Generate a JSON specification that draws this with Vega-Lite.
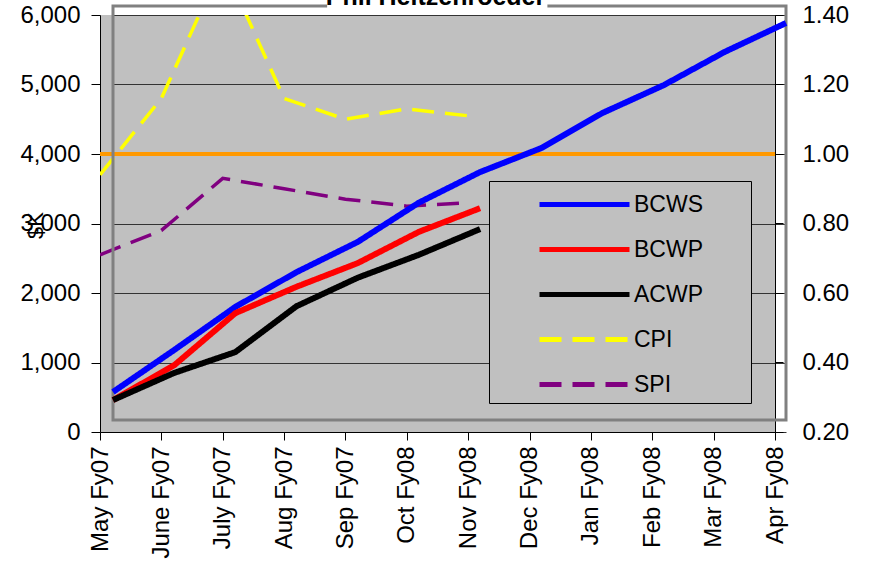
{
  "$schema": "https://vega.github.io/schema/vega-lite/v6.json",
  "width": 675,
  "height": 417,
  "autosize": {"type": "none"},
  "padding": {"left": 100, "top": 15, "right": 97, "bottom": 151},
  "background": "white",
  "title": {"text": "Phil Heitzenroeder", "anchor": "middle", "frame": "group", "offset": -31, "dx": -2, "baseline": "alphabetic", "fontSize": 25, "fontWeight": "bold", "font": "Liberation Sans", "color": "black"},
  "config": {
    "view": {"fill": "#c0c0c0", "stroke": null},
    "font": "Liberation Sans",
    "axis": {"domainColor": "black", "tickColor": "black", "labelColor": "black", "labelFontSize": 24, "labelFont": "Liberation Sans", "gridColor": "#333333", "gridWidth": 1, "domainWidth": 1, "tickWidth": 1, "titleColor": "black"},
    "legend": {"orient": "none", "legendX": 389, "legendY": 166, "fillColor": "#c0c0c0", "strokeColor": "black", "padding": 6, "symbolSize": 900, "symbolStrokeWidth": 5, "symbolOffset": 72, "labelOffset": 32, "labelFontSize": 23, "labelFont": "Liberation Sans", "labelColor": "black", "rowPadding": 15}
  },
  "datasets": {
    "idx": [
      {"month": "May Fy07", "series": "CPI", "value": 0.94},
      {"month": "June Fy07", "series": "CPI", "value": 1.16},
      {"month": "July Fy07", "series": "CPI", "value": 1.55},
      {"month": "Aug Fy07", "series": "CPI", "value": 1.16},
      {"month": "Sep Fy07", "series": "CPI", "value": 1.10},
      {"month": "Oct Fy08", "series": "CPI", "value": 1.13},
      {"month": "Nov Fy08", "series": "CPI", "value": 1.11},
      {"month": "May Fy07", "series": "SPI", "value": 0.71},
      {"month": "June Fy07", "series": "SPI", "value": 0.78},
      {"month": "July Fy07", "series": "SPI", "value": 0.93},
      {"month": "Aug Fy07", "series": "SPI", "value": 0.90},
      {"month": "Sep Fy07", "series": "SPI", "value": 0.87},
      {"month": "Oct Fy08", "series": "SPI", "value": 0.85},
      {"month": "Nov Fy08", "series": "SPI", "value": 0.86}
    ],
    "evm": [
      {"month": "May Fy07", "series": "BCWS", "value": 576},
      {"month": "June Fy07", "series": "BCWS", "value": 1180},
      {"month": "July Fy07", "series": "BCWS", "value": 1800},
      {"month": "Aug Fy07", "series": "BCWS", "value": 2300},
      {"month": "Sep Fy07", "series": "BCWS", "value": 2735},
      {"month": "Oct Fy08", "series": "BCWS", "value": 3300},
      {"month": "Nov Fy08", "series": "BCWS", "value": 3740},
      {"month": "Dec Fy08", "series": "BCWS", "value": 4085},
      {"month": "Jan Fy08", "series": "BCWS", "value": 4590},
      {"month": "Feb Fy08", "series": "BCWS", "value": 4990},
      {"month": "Mar Fy08", "series": "BCWS", "value": 5470},
      {"month": "Apr Fy08", "series": "BCWS", "value": 5885},
      {"month": "May Fy07", "series": "BCWP", "value": 460},
      {"month": "June Fy07", "series": "BCWP", "value": 960},
      {"month": "July Fy07", "series": "BCWP", "value": 1710},
      {"month": "Aug Fy07", "series": "BCWP", "value": 2090},
      {"month": "Sep Fy07", "series": "BCWP", "value": 2430},
      {"month": "Oct Fy08", "series": "BCWP", "value": 2880},
      {"month": "Nov Fy08", "series": "BCWP", "value": 3220},
      {"month": "May Fy07", "series": "ACWP", "value": 460},
      {"month": "June Fy07", "series": "ACWP", "value": 850},
      {"month": "July Fy07", "series": "ACWP", "value": 1150},
      {"month": "Aug Fy07", "series": "ACWP", "value": 1810},
      {"month": "Sep Fy07", "series": "ACWP", "value": 2220},
      {"month": "Oct Fy08", "series": "ACWP", "value": 2550},
      {"month": "Nov Fy08", "series": "ACWP", "value": 2920}
    ]
  },
  "layer": [
    {
      "data": {"name": "idx"},
      "layer": [
        {
          "mark": {"type": "line", "strokeWidth": 3.5, "clip": true},
          "encoding": {
            "x": {"field": "month", "type": "ordinal", "sort": null,
              "scale": {"type": "point", "padding": 0, "domain": ["May Fy07","June Fy07","July Fy07","Aug Fy07","Sep Fy07","Oct Fy08","Nov Fy08","Dec Fy08","Jan Fy08","Feb Fy08","Mar Fy08","Apr Fy08"]},
              "axis": {"orient": "bottom", "title": null, "labelAngle": 270, "labelAlign": "right", "labelBaseline": "middle", "tickSize": 8, "labelPadding": 6, "grid": false, "labelOverlap": false, "labelBound": false}},
            "y": {"field": "value", "type": "quantitative",
              "scale": {"domain": [0.2, 1.4], "nice": false, "zero": false},
              "axis": {"orient": "right", "title": null, "values": [0.2, 0.4, 0.6, 0.8, 1.0, 1.2, 1.4], "format": ".2f", "grid": false, "tickSize": 8, "labelPadding": 19}},
            "color": {"field": "series", "type": "nominal",
              "scale": {"domain": ["BCWS","BCWP","ACWP","CPI","SPI"], "range": ["#0000ff","#ff0000","#000000","#ffff00","#800080"]},
              "legend": {"title": "\u00a0", "titleOrient": "right", "titlePadding": 42, "symbolType": "M-3,0H3"}},
            "strokeDash": {"field": "series", "type": "nominal",
              "scale": {"domain": ["BCWS","BCWP","ACWP","CPI","SPI"], "range": [[1,0],[1,0],[1,0],[22,11],[22,11]]},
              "legend": {"title": "\u00a0", "titleOrient": "right", "titlePadding": 42, "symbolType": "M-3,0H3"}}
          }
        },
        {
          "mark": {"type": "rule", "color": "#ff9900", "strokeWidth": 4},
          "encoding": {"y": {"datum": 1.0, "type": "quantitative"}}
        }
      ]
    },
    {
      "data": {"values": [{}]},
      "layer": [
        {
          "mark": {"type": "rect", "filled": false, "color": "#808080", "strokeWidth": 3},
          "encoding": {
            "x": {"datum": 0, "type": "quantitative", "scale": {"domain": [0, 11], "range": [13, 686], "nice": false, "zero": false}, "axis": null},
            "x2": {"datum": 11},
            "y": {"datum": 6130, "type": "quantitative", "scale": {"domain": [0, 6000], "nice": false}, "axis": null},
            "y2": {"datum": 173}
          }
        },
        {
          "mark": {"type": "rect", "color": "white"},
          "encoding": {
            "x": {"datum": 3.5, "type": "quantitative"},
            "x2": {"datum": 7.1},
            "y": {"datum": 6230, "type": "quantitative"},
            "y2": {"datum": 6060}
          }
        }
      ]
    },
    {
      "data": {"name": "evm"},
      "mark": {"type": "line", "strokeWidth": 6},
      "encoding": {
        "x": {"field": "month", "type": "ordinal", "sort": null,
          "scale": {"type": "point", "padding": 0, "range": [13, 686], "domain": ["May Fy07","June Fy07","July Fy07","Aug Fy07","Sep Fy07","Oct Fy08","Nov Fy08","Dec Fy08","Jan Fy08","Feb Fy08","Mar Fy08","Apr Fy08"]},
          "axis": null},
        "y": {"field": "value", "type": "quantitative",
          "scale": {"domain": [0, 6000], "nice": false},
          "axis": {"orient": "left", "values": [0, 1000, 2000, 3000, 4000, 5000, 6000], "format": ",d", "grid": true, "tickSize": 9, "labelPadding": 11, "title": "$K", "titleX": -65, "titleY": 210, "titleAngle": 270, "titleFontSize": 22, "titleFontWeight": "normal", "titleAlign": "center", "titleBaseline": "middle"}},
        "color": {"field": "series", "type": "nominal", "legend": {"title": "\u00a0", "titleOrient": "right", "titlePadding": 42, "symbolType": "M-3,0H3"}},
        "strokeDash": {"field": "series", "type": "nominal", "legend": {"title": "\u00a0", "titleOrient": "right", "titlePadding": 42, "symbolType": "M-3,0H3"}}
      }
    }
  ],
  "resolve": {"scale": {"x": "independent", "y": "independent"}}
}
